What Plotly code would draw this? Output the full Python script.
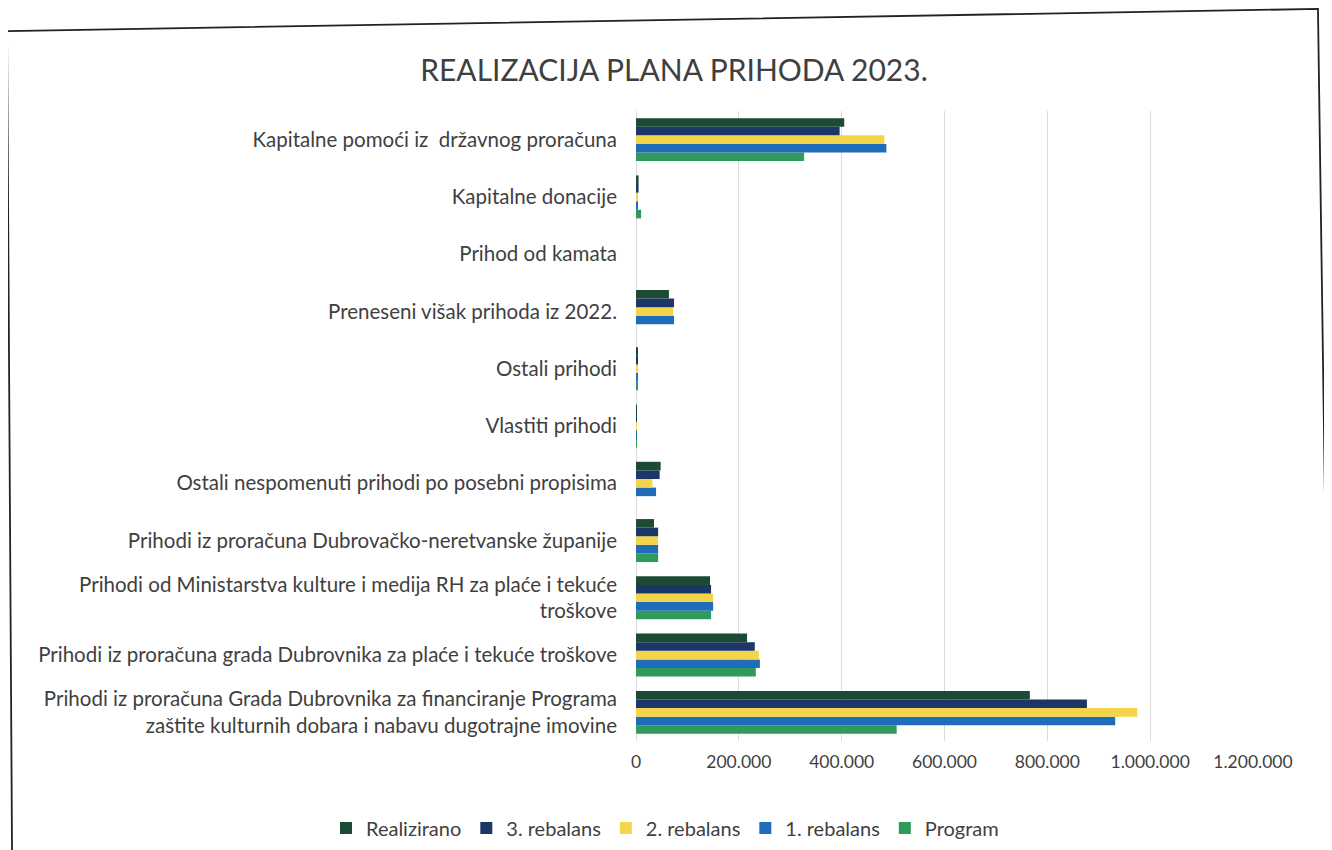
import plotly.graph_objects as go

categories = [
    "Prihodi iz proračuna Grada Dubrovnika za financiranje Programa<br>zaštite kulturnih dobara i nabavu dugotrajne imovine",
    "Prihodi iz proračuna grada Dubrovnika za plaće i tekuće troškove",
    "Prihodi od Ministarstva kulture i medija RH za plaće i tekuće<br>troškove",
    "Prihodi iz proračuna Dubrovačko-neretvanske županije",
    "Ostali nespomenuti prihodi po posebni propisima",
    "Vlastiti prihodi",
    "Ostali prihodi",
    "Preneseni višak prihoda iz 2022.",
    "Prihod od kamata",
    "Kapitalne donacije",
    "Kapitalne pomoći iz  državnog proračuna",
]

realizirano = [766000, 216000, 144000, 35000, 48000, 500, 2000, 64000, 0, 5000, 405000]
rebalans3 = [877000, 231000, 146000, 43000, 46000, 500, 2000, 74000, 0, 5000, 396000]
rebalans2 = [975000, 239000, 150000, 43000, 32000, 500, 2000, 72000, 0, 3000, 483000]
rebalans1 = [932000, 241000, 150000, 43000, 39000, 500, 3000, 74000, 0, 3000, 487000]
program = [507000, 233000, 146000, 43000, 0, 500, 3000, 0, 0, 10000, 327000]

x_ticks = [0, 200000, 400000, 600000, 800000, 1000000, 1200000]

series = [
    ("Program", program, "#2f9a5c"),
    ("1. rebalans", rebalans1, "#1f6db8"),
    ("2. rebalans", rebalans2, "#f4d54a"),
    ("3. rebalans", rebalans3, "#1c3766"),
    ("Realizirano", realizirano, "#1d4a34"),
]

fig = go.Figure()
for name, vals, col in series:
    fig.add_trace(go.Bar(
        y=categories, x=vals, name=name, orientation="h",
        marker=dict(color=col, line=dict(width=0)),
    ))

txt = "#3f3f3f"
W, H = 1332, 850
L, R, T, B = 628, 87, 103, 116
pw, ph = W - L - R, H - T - B


def px(x):
    return (x - L) / pw


def py(y):
    return (H - B - y) / ph


frame_path = "M {:.4f},{:.4f} L {:.4f},{:.4f} L {:.4f},{:.4f} L {:.4f},{:.4f}".format(
    px(4), py(845), px(-1), py(23), px(1310), py(0.8), px(1322), py(845))

fig.update_layout(
    width=W, height=H,
    barmode="group", bargap=0.25, bargroupgap=0,
    paper_bgcolor="white", plot_bgcolor="white",
    font=dict(family="Lato, Open Sans, sans-serif", color=txt, size=18),
    separators=",.",
    title=dict(text="REALIZACIJA PLANA PRIHODA 2023.", x=0.5, xanchor="center",
               y=1 - 62 / H, yanchor="middle",
               font=dict(size=30, color=txt, family="Lato, Open Sans, sans-serif")),
    margin=dict(l=L, r=R, t=T, b=B),
    legend=dict(orientation="h", xref="paper", yref="paper",
                x=px(318), xanchor="left", y=py(820), yanchor="middle",
                itemwidth=30,
                traceorder="reversed", font=dict(size=20, color=txt)),
    xaxis=dict(range=[0, 1200000], tickvals=x_ticks, tickformat=",d",
               showgrid=True, gridcolor="#dcdcdc", gridwidth=1,
               zeroline=True, zerolinecolor="#dcdcdc", zerolinewidth=1,
               showline=False, ticks="", tickfont=dict(size=17.5, color=txt),
               ticklabelstandoff=8),
    yaxis=dict(showgrid=False, showline=False, ticks="",
               tickfont=dict(size=20.5, color=txt), ticklabelstandoff=18),
    shapes=[dict(type="path", xref="paper", yref="paper", path=frame_path,
                 line=dict(color="#222222", width=1.8), layer="below")],
)

fig.write_html("out.html")
